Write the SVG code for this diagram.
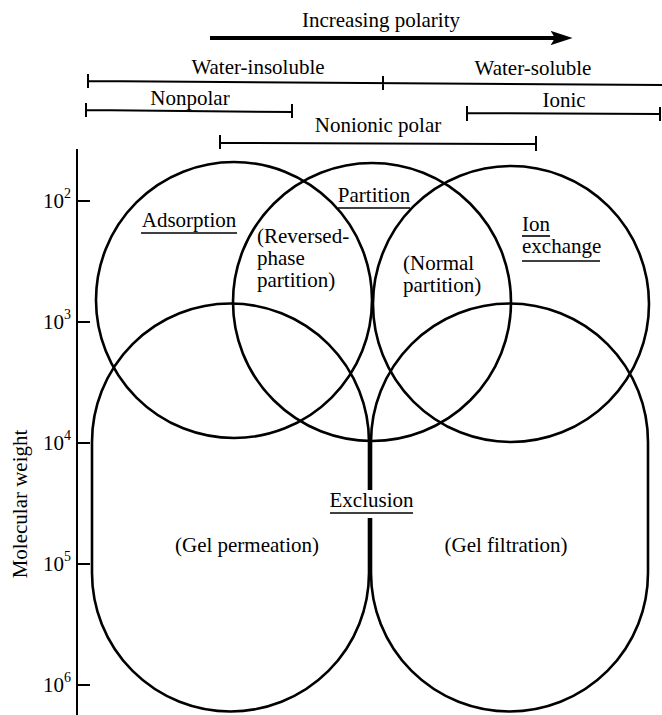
<svg xmlns="http://www.w3.org/2000/svg" width="662" height="715" viewBox="0 0 662 715">
<defs>
<marker id="ah" viewBox="0 0 10 10" refX="2" refY="5" markerWidth="5.5" markerHeight="3.6" orient="auto" markerUnits="strokeWidth" preserveAspectRatio="none">
<path d="M0,0 L10,5 L0,10 L2,5 Z" fill="#000"/>
</marker>
</defs>
<rect width="662" height="715" fill="#fff"/>

<g id="polarity-arrow">
<text x="381" y="27" font-family="Liberation Serif" font-size="21" text-anchor="middle">Increasing polarity</text>
<line x1="210" y1="38" x2="555" y2="38" stroke="#000" stroke-width="4" marker-end="url(#ah)"/>
</g>

<g id="scales">
<g font-family="Liberation Serif" font-size="21" text-anchor="middle">
<text x="258" y="74">Water-insoluble</text>
<text x="533" y="75">Water-soluble</text>
<text x="190" y="105">Nonpolar</text>
<text x="564" y="107">Ionic</text>
<text x="378" y="132">Nonionic polar</text>
</g>
<g stroke="#000" stroke-width="2" fill="none">
<path d="M88,81 L662,85 M88,74 V88 M383,76 V90"/>
<path d="M86,110 L292,112 M86,103 V117 M292,104 V118"/>
<path d="M467,113 L660,114 M467,106 V121 M660,107 V121"/>
<path d="M220,143 L536,144 M220,135 V149 M536,136 V151"/>
</g>
</g>

<g id="axis">
<path d="M77,149 V715 M77,201 H90 M77,322 H90 M77,443 H90 M77,564 H90 M77,685 H90" stroke="#000" stroke-width="2" fill="none"/>
<g font-family="Liberation Serif" font-size="21">
<text x="43" y="208">10<tspan font-size="14" dy="-10">2</tspan></text>
<text x="43" y="329">10<tspan font-size="14" dy="-10">3</tspan></text>
<text x="43" y="450">10<tspan font-size="14" dy="-10">4</tspan></text>
<text x="43" y="571">10<tspan font-size="14" dy="-10">5</tspan></text>
<text x="43" y="692">10<tspan font-size="14" dy="-10">6</tspan></text>
<text text-anchor="middle" transform="translate(27,504) rotate(-90)">Molecular weight</text>
</g>
</g>

<g id="adsorption" font-family="Liberation Serif" font-size="21">
<circle cx="234" cy="300" r="138" stroke="#000" stroke-width="2.6" fill="none"/>
<text x="189" y="227" text-anchor="middle">Adsorption</text>
<line x1="141" y1="233" x2="237" y2="233" stroke="#000" stroke-width="1.6"/>
</g>

<g id="partition" font-family="Liberation Serif" font-size="21">
<circle cx="372" cy="302" r="139" stroke="#000" stroke-width="2.6" fill="none"/>
<text x="374" y="202" text-anchor="middle">Partition</text>
<line x1="338" y1="208" x2="410" y2="208" stroke="#000" stroke-width="1.6"/>
<text x="257" y="243">(Reversed-</text>
<text x="257" y="265">phase</text>
<text x="257" y="287">partition)</text>
<text x="403" y="270">(Normal</text>
<text x="403" y="292">partition)</text>
</g>

<g id="ion-exchange" font-family="Liberation Serif" font-size="21">
<circle cx="511" cy="304" r="138" stroke="#000" stroke-width="2.6" fill="none"/>
<text x="522" y="231">Ion</text>
<line x1="522" y1="236" x2="550" y2="236" stroke="#000" stroke-width="1.6"/>
<text x="522" y="253">exchange</text>
<line x1="522" y1="261" x2="600" y2="261" stroke="#000" stroke-width="1.6"/>
</g>

<g id="exclusion" font-family="Liberation Serif" font-size="21">
<g stroke="#000" stroke-width="2.6" fill="none">
<path d="M92,442 A138.5,138.5 0 0 1 369,442 L369,573 A138.5,138.5 0 0 1 92,573 Z"/>
<path d="M371,442 A138.5,138.5 0 0 1 648,442 L648,573 A138.5,138.5 0 0 1 371,573 Z"/>
</g>
<rect x="364" y="490" width="12" height="28" fill="#fff"/>
<text x="371.5" y="507" text-anchor="middle">Exclusion</text>
<line x1="330" y1="513" x2="413" y2="513" stroke="#000" stroke-width="1.6"/>
<text x="247" y="552" text-anchor="middle">(Gel permeation)</text>
<text x="506" y="552" text-anchor="middle">(Gel filtration)</text>
</g>
</svg>
